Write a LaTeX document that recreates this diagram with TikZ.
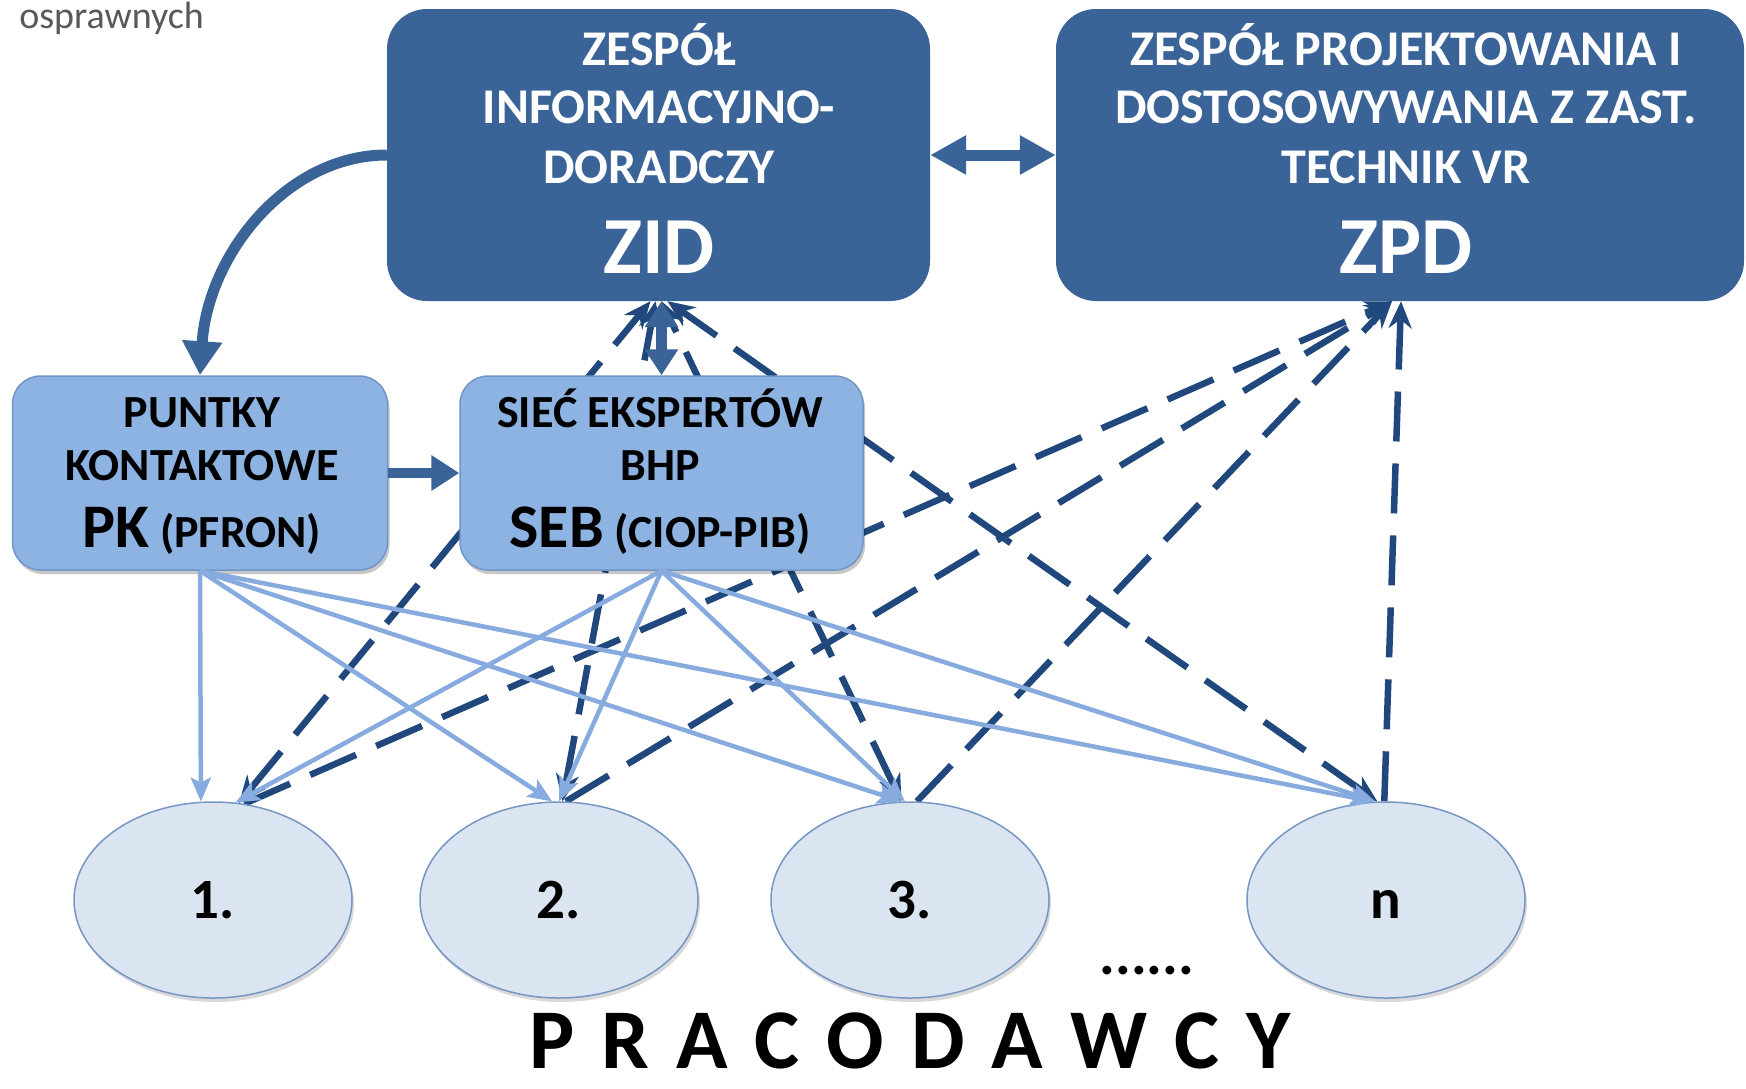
\documentclass[tikz,border=0pt]{standalone}
\usepackage{fontspec}
\setmainfont{Carlito}
\usetikzlibrary{arrows.meta,shapes.geometric,shadows,calc}
\pgfdeclarelayer{bg}
\pgfsetlayers{bg,main}

\definecolor{darkbox}{RGB}{58,99,152}
\definecolor{lightbox}{RGB}{141,179,226}
\definecolor{lightborder}{RGB}{112,150,200}
\definecolor{ellfill}{RGB}{219,229,241}
\definecolor{ellborder}{RGB}{118,150,196}
\definecolor{lightline}{RGB}{135,171,222}
\definecolor{dashline}{RGB}{33,72,124}
\definecolor{graytext}{RGB}{89,89,89}

\tikzset{
  darkrect/.style={draw=none, fill=darkbox, rounded corners=40pt, inner sep=0pt},
  lightrect/.style={draw=lightborder, line width=1.5pt, fill=lightbox, rounded corners=28pt, inner sep=0pt,
    drop shadow={shadow xshift=2pt, shadow yshift=-4pt, fill=black, opacity=0.22}},
  emp/.style={ellipse, draw=ellborder, line width=1.5pt, fill=ellfill, minimum width=278pt, minimum height=196pt,
    inner sep=0pt, text height=36pt, text depth=0pt, font=\fontsize{57pt}{60pt}\selectfont\bfseries,
    drop shadow={shadow xshift=2pt, shadow yshift=-4pt, fill=black, opacity=0.15}},
  wtxt/.style={anchor=base, text=white, inner sep=0pt, font=\fontsize{50pt}{58pt}\selectfont\bfseries},
  wbig/.style={anchor=base, text=white, inner sep=0pt, font=\fontsize{81pt}{90pt}\selectfont\bfseries},
  btxt/.style={anchor=base, text=black, inner sep=0pt, font=\fontsize{46pt}{53pt}\selectfont\bfseries},
  curvearrow/.style={draw=darkbox, line width=11pt, -{Triangle[width=38pt,length=34pt]}},
  rightarrow/.style={draw=darkbox, line width=10pt, -{Triangle[width=34pt,length=28pt]}},
  biarrow/.style={draw=darkbox, line width=11pt, {Triangle[width=37pt,length=36pt]}-{Triangle[width=37pt,length=36pt]}},
  vbiarrow/.style={draw=darkbox, line width=11pt, {Triangle[width=32pt,length=26pt]}-{Triangle[width=32pt,length=26pt]}},
  lightarrow/.style={draw=lightline, line width=4.5pt, -{Stealth[length=24pt,width=20pt,inset=5pt]}},
  dashone/.style={draw=dashline, line width=6.5pt, dash pattern=on 50pt off 22pt, -{Stealth[length=27pt,width=23pt]}},
  dashtwo/.style={draw=dashline, line width=6.5pt, dash pattern=on 50pt off 22pt,
    {Stealth[length=27pt,width=23pt]}-{Stealth[length=27pt,width=23pt]}},
}

\begin{document}
\begin{tikzpicture}[x=1pt,y=-1pt]
\useasboundingbox (0,0) rectangle (1746,1088);

% fragment of text at the top left
\node[anchor=base east, text=graytext, inner sep=0pt, font=\fontsize{38pt}{42pt}\selectfont] (frag) at (204,28) {osprawnych};

% boxes
\node[darkrect, minimum width=543pt, minimum height=292pt] (zid) at (658.5,155) {};
\node[darkrect, minimum width=688pt, minimum height=292pt] (zpd) at (1400,155) {};
\node[lightrect, minimum width=375pt, minimum height=194pt] (pk) at (200,473) {};
\node[lightrect, minimum width=403pt, minimum height=194pt] (seb) at (661.5,473) {};

% box texts
\node[wtxt] (zid1) at (659,65) {ZESPÓŁ};
\node[wtxt] (zid2) at (659,123.5) {INFORMACYJNO-};
\node[wtxt] (zid3) at (659,183) {DORADCZY};
\node[wbig] (zid4) at (659,273) {ZID};
\node[wtxt] (zpd1) at (1406,65) {ZESPÓŁ PROJEKTOWANIA I};
\node[wtxt] (zpd2) at (1406,123.5) {DOSTOSOWYWANIA Z ZAST.};
\node[wtxt] (zpd3) at (1406,183) {TECHNIK VR};
\node[wbig] (zpd4) at (1406,273) {ZPD};
\node[btxt] (pk1) at (202,427) {PUNTKY};
\node[btxt] (pk2) at (202,480) {KONTAKTOWE};
\node[btxt] (pk3) at (202,547) {{\fontsize{62pt}{62pt}\selectfont PK} (PFRON)};
\node[btxt] (seb1) at (660,427) {SIEĆ EKSPERTÓW};
\node[btxt] (seb2) at (660,480) {BHP};
\node[btxt] (seb3) at (660,547) {{\fontsize{62pt}{62pt}\selectfont SEB} (CIOP-PIB)};

% employers
\node[emp] (e1) at (213,900) {1.};
\node[emp] (e2) at (559,900) {2.};
\node[emp] (e3) at (910,900) {3.};
\node[emp] (en) at (1386,900) {n};
\node[anchor=base, inner sep=0pt, font=\fontsize{59pt}{60pt}\selectfont\bfseries] (dots) at (1147,974) {......};
\node[anchor=base, inner sep=0pt, font=\fontsize{85pt}{90pt}\selectfont\bfseries] (prac) at (910,1068)
  {P\kern27pt R\kern27pt A\kern27pt C\kern27pt O\kern27pt D\kern27pt A\kern27pt W\kern27pt C\kern27pt Y};

% anchor points on the team boxes
\coordinate (zidA) at ($(zid.south)+(-8,0)$);
\coordinate (zidB) at ($(zid.south)+(-3,0)$);
\coordinate (zidC) at ($(zid.south)+(3,0)$);
\coordinate (zidD) at ($(zid.south)+(9,0)$);
\coordinate (zpdA) at ($(zpd.south)+(-8,0)$);
\coordinate (zpdB) at ($(zpd.south)+(1,0)$);

% dashed links (behind boxes)
\begin{pgfonlayer}{bg}
\draw[dashtwo] (e1.75) -- (zidA);
\draw[dashtwo] (e2.88) -- (zidB);
\draw[dashtwo] (e3.95) -- (zidC);
\draw[dashtwo] (en.95) -- (zidD);
\draw[dashone] (e1.72) -- (zpdA);
\draw[dashone] (e2.86) -- (zpdA);
\draw[dashone] (e3.86) -- (zpdA);
\draw[dashone] (en.91) -- (zpdB);
\end{pgfonlayer}

% light links
\draw[lightarrow] (pk.south) -- (e1.97);
\draw[lightarrow] (pk.south) -- (e2.94);
\draw[lightarrow] (pk.south) -- (e3.95);
\draw[lightarrow] (pk.south) -- (en.97);
\draw[lightarrow] (seb.south) -- (e1.77);
\draw[lightarrow] (seb.south) -- (e2.90);
\draw[lightarrow] (seb.south) -- (e3.93);
\draw[lightarrow] (seb.south) -- (en.96);

% thick links
\draw[curvearrow] (zid.west) .. controls (287,155) and (208,254) .. (pk.north);
\draw[rightarrow] (pk.east) -- (seb.west);
\draw[biarrow] (zid.east) -- (zpd.west);
\draw[vbiarrow] (seb.north |- zid.south) -- (seb.north);
\end{tikzpicture}
\end{document}
